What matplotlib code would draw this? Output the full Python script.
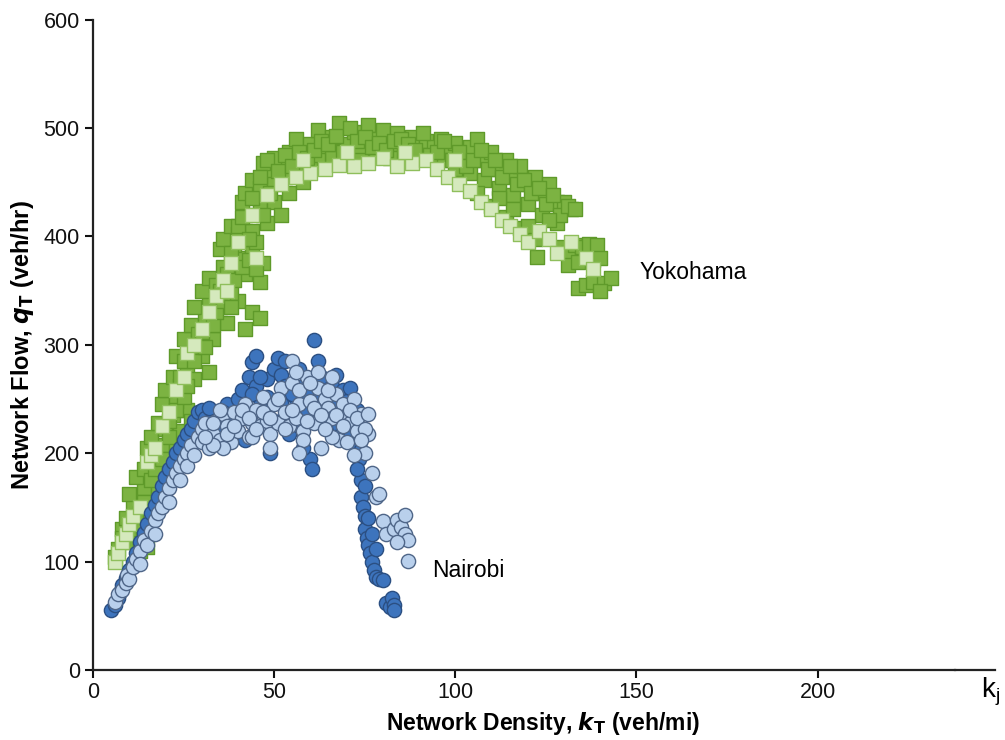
import numpy as np
import matplotlib.pyplot as plt
from matplotlib.lines import Line2D

plt.rcParams['font.family'] = ['Liberation Sans', 'DejaVu Sans']

# Yokohama (squares) - dark green points
yok_dark_x = [6, 7, 9, 11, 13, 15, 8, 12,
              9, 11, 13, 15, 17, 10, 14, 18,
              12, 14, 16, 18, 20, 22, 15, 19, 23,
              16, 18, 20, 22, 24, 26, 19, 23, 27,
              20, 22, 24, 26, 28, 30, 23, 27, 32, 25,
              25, 27, 29, 31, 33, 35, 37, 40, 44, 46, 28, 32, 42,
              30, 32, 34, 36, 38, 40, 42, 44, 46, 35, 39, 47,
              36, 38, 40, 42, 44, 46, 48, 50, 52, 41, 45,
              42, 44, 46, 48, 50, 52, 54, 56, 58, 47, 53,
              50, 54, 56, 58, 60, 62, 64, 66, 68, 70, 72, 74, 76, 78, 80, 82, 84, 86, 88, 90, 92, 94, 96,
              66, 70, 74, 78, 82, 86, 62, 60,
              98, 100, 102, 104, 106, 108, 110, 112, 114, 116, 118, 120, 122, 124, 126, 128, 130, 132,
              96, 100, 104, 108, 112, 116, 120, 124, 128, 106, 110, 114, 118, 122,
              129, 131, 133, 135, 137, 139, 131, 134, 138, 140, 122.6,
              134, 136, 138, 141, 143, 140,
              8, 10, 12, 14, 16, 17, 19, 21, 21, 23, 25, 24, 26, 28, 29, 31, 30, 33, 34, 36, 38,
              35, 37, 39, 41, 43, 45, 38, 40, 43, 41, 44, 47, 49, 46, 48, 51, 53, 55, 57, 59, 61,
              63, 65, 67, 69, 71, 73, 75, 77, 79, 81, 83, 85, 87, 89, 91, 93, 95, 97, 99, 101, 103,
              105, 107, 109, 111, 113, 115, 117, 119, 121, 123, 125, 127, 129, 131, 126, 120, 116,
              112, 133]
yok_dark_y = [104, 112, 118, 125, 110, 113, 130, 132,
              140, 150, 145, 158, 150, 162, 168, 165,
              178, 185, 192, 180, 200, 190, 205, 208, 205,
              215, 228, 222, 235, 220, 240, 245, 248, 230,
              258, 270, 262, 280, 268, 290, 290, 298, 275, 285,
              305, 318, 310, 325, 305, 335, 320, 340, 330, 325, 335, 342, 315,
              350, 362, 355, 372, 348, 380, 365, 385, 358, 388, 392, 375,
              398, 410, 402, 420, 405, 428, 412, 432, 420, 432, 395,
              440, 452, 445, 460, 448, 465, 440, 458, 450, 468, 455,
              472, 478, 490, 470, 485, 498, 478, 492, 505, 485, 496, 480, 503, 490, 498, 485, 495, 480, 492, 478, 488, 482, 490,
              472, 468, 470, 475, 472, 470, 470, 462,
              480, 486, 475, 482, 490, 470, 478, 462, 470, 458, 465, 448, 455, 440, 448, 432, 432, 425,
              470, 462, 458, 452, 445, 438, 430, 420, 412, 440, 428, 418, 408, 398,
              390, 385, 392, 390, 393, 392, 374, 376, 378, 380, 381,
              352, 355, 358, 357, 362, 350,
              122, 130, 142, 155, 175, 185, 195, 215, 230, 240, 252, 270, 262, 285, 300, 298, 312,
              318, 330, 340, 335, 350, 365, 360, 372, 378, 370, 385, 410, 398, 418, 435, 420, 440,
              455, 470, 460, 475, 465, 478, 472, 480, 488, 485, 493, 478, 500, 488, 492, 482, 486,
              480, 488, 490, 485, 480, 495, 475, 478, 488, 470, 478, 465, 470, 480, 462, 470, 455,
              465, 448, 452, 440, 445, 430, 438, 420, 428, 415, 410, 425, 435, 425]

# Yokohama - light green points
yok_light_x = [6, 7, 8, 9, 10, 11, 13, 15, 16, 17, 19, 21, 23, 25, 26, 28, 30, 32, 34, 36, 38, 40,
               44, 48, 52, 56, 60, 64, 68, 72, 76, 80, 84, 88, 92, 95, 98, 101, 104, 107, 110,
               113, 115, 118, 120, 123, 126, 128, 132, 136, 138, 58, 70, 86, 100, 45, 37]
yok_light_y = [100, 108, 118, 125, 135, 142, 150, 192, 198, 205, 225, 238, 258, 270, 292, 300, 315, 330,
               345, 360, 375, 395, 420, 438, 448, 455, 458, 462, 466, 465, 468, 472, 465, 468, 470,
               462, 455, 448, 442, 432, 425, 415, 410, 402, 395, 405, 398, 385, 395, 380, 370,
               470, 478, 478, 470, 380, 350]

# Nairobi (circles) - dark blue points
nai_dark_x = [5, 6, 7, 7.5, 8, 9, 10, 11, 12, 13, 14, 15, 16, 17, 18, 19, 20, 21, 22, 23, 24, 25,
              26, 27, 28, 29, 30, 31, 33, 35, 37, 38, 40, 41, 42, 43, 44, 45, 46, 47, 48, 49, 50,
              51, 52, 53, 54, 55, 56, 57, 58, 59, 60, 60.5, 61, 62, 63, 64, 65, 66, 67, 68, 69,
              70, 71, 72, 73, 73.5, 74, 74, 74.5, 75, 75, 75.5, 76, 76.5, 77, 77.5, 78, 79, 80,
              74, 73, 75, 76, 77, 78, 81, 82, 82.5, 83, 83,
              32, 34, 36, 39, 44, 46, 48, 50, 52, 55, 57, 59, 62, 64, 66, 68, 70, 71, 72, 53,
              45, 63, 67, 58]
nai_dark_y = [55, 60, 66, 72, 78, 85, 92, 100, 108, 118, 126, 135, 145, 152, 160, 170, 178, 185,
              192, 200, 205, 212, 218, 222, 230, 238, 240, 232, 236, 228, 245, 222, 250, 258, 212,
              270, 284, 262, 250, 240, 268, 200, 278, 288, 272, 262, 218, 238, 250, 278, 262, 255,
              195, 185, 304, 285, 240, 268, 225, 262, 272, 246, 258, 232, 220, 210, 240, 195, 175,
              160, 150, 142, 130, 122, 115, 108, 100, 92, 86, 84, 83, 203, 185, 170, 140, 125,
              112, 62, 58, 66, 60, 55,
              242, 225, 238, 230, 255, 270, 252, 230, 246, 255, 225, 240, 250, 232, 245, 225, 248,
              260, 228, 285, 290, 270, 215, 205]

# Nairobi - light blue points
nai_light_x = [6, 7, 8, 9, 9.5, 10, 11, 12, 13, 13, 14, 15, 16, 17, 17, 18, 19, 20, 21, 21, 22, 23,
               24, 24, 25, 26, 26, 27, 28, 29, 30, 30, 31, 32, 33, 34, 35, 36, 37, 38, 39, 40, 41,
               42, 43, 44, 45, 46, 47, 48, 49, 50, 51, 52, 53, 54, 55, 56, 57, 58, 59, 60, 61, 62,
               63, 64, 65, 66, 67, 68, 69, 70, 71, 72, 73, 74, 75, 76, 77, 78, 79, 80, 81, 83, 84,
               85, 86, 86, 87, 87, 84, 55, 62, 58, 66, 70, 49, 44, 36, 33, 57, 64,
               31, 33, 35, 37, 39, 41, 43, 45, 47, 49, 51, 53, 55, 57, 59, 61, 63, 65, 67, 69, 71,
               73, 75, 76, 74, 72, 60, 56, 66]
nai_light_y = [63, 70, 74, 80, 88, 84, 95, 102, 110, 98, 120, 115, 128, 138, 125, 145, 150, 160, 168,
               155, 175, 182, 188, 175, 195, 200, 188, 208, 198, 215, 210, 222, 228, 205, 218, 230,
               212, 236, 225, 210, 238, 220, 232, 245, 215, 228, 240, 225, 252, 230, 218, 245, 228,
               260, 238, 225, 265, 232, 245, 220, 270, 248, 228, 260, 205, 250, 242, 232, 255, 212,
               245, 235, 228, 250, 220, 236, 200, 218, 182, 160, 162, 137, 125, 130, 138, 132, 143,
               125, 120, 101, 118, 285, 275, 212, 215, 210, 205, 215, 205, 208, 200, 222,
               215, 228, 240, 218, 225, 240, 232, 222, 238, 232, 250, 222, 240, 258, 230, 242, 235,
               258, 235, 225, 240, 232, 222, 236, 212, 198, 265, 275, 270]

x_ticks = [0, 50, 100, 150, 200]
y_ticks = [0, 100, 200, 300, 400, 500, 600]

fig = plt.figure(figsize=(10.05, 7.4), dpi=100)
ax = fig.add_axes([0.0925, 0.0946, 0.858, 0.879])

ax.scatter(yok_dark_x, yok_dark_y, marker='s', s=90, c='#7cb342', edgecolors='#5f9a2a',
           linewidths=1.0, zorder=2)
ax.scatter(yok_light_x, yok_light_y, marker='s', s=90, c='#d5e9bd', edgecolors='#8fbf5c',
           linewidths=1.0, zorder=3)
ax.scatter(nai_dark_x, nai_dark_y, marker='o', s=105, c='#3d74bd', edgecolors='#2b4f82',
           linewidths=1.0, zorder=4)
ax.scatter(nai_light_x, nai_light_y, marker='o', s=105, c='#b9d0ec', edgecolors='#4f6688',
           linewidths=1.0, zorder=5)

ax.set_xlim(0, 238)
ax.set_ylim(0, 600)
ax.set_xticks(x_ticks)
ax.set_yticks(y_ticks)
ax.tick_params(axis='both', direction='out', length=6, width=1.5, labelsize=15.5, colors='#111111')
ax.tick_params(axis='x', pad=3)
for side in ['top', 'right']:
    ax.spines[side].set_visible(False)
for side in ['left', 'bottom']:
    ax.spines[side].set_linewidth(1.6)
    ax.spines[side].set_color('#222222')

# extension of the density axis out to k_j
ax.add_line(Line2D([1.0, 1.046], [0, 0], transform=ax.transAxes, color='#222222',
                   lw=1.6, clip_on=False))
fig.text(0.976, 0.043, r'k$_\mathregular{j}$', fontsize=20, ha='left', va='bottom')

ax.set_xlabel(r'Network Density, $\mathbfit{k}_\mathbf{T}$ (veh/mi)', fontsize=16.5,
              fontweight='bold')
ax.set_ylabel(r'Network Flow, $\mathbfit{q}_\mathbf{T}$ (veh/hr)', fontsize=17,
              fontweight='bold')
ax.xaxis.set_label_coords(0.522, -0.061)
ax.yaxis.set_label_coords(-0.066, 0.5)

ax.text(151, 367, 'Yokohama', fontsize=16.5, va='center', ha='left')
ax.text(93.5, 92, 'Nairobi', fontsize=16.5, va='center', ha='left')

plt.savefig('out.png', dpi=100)
